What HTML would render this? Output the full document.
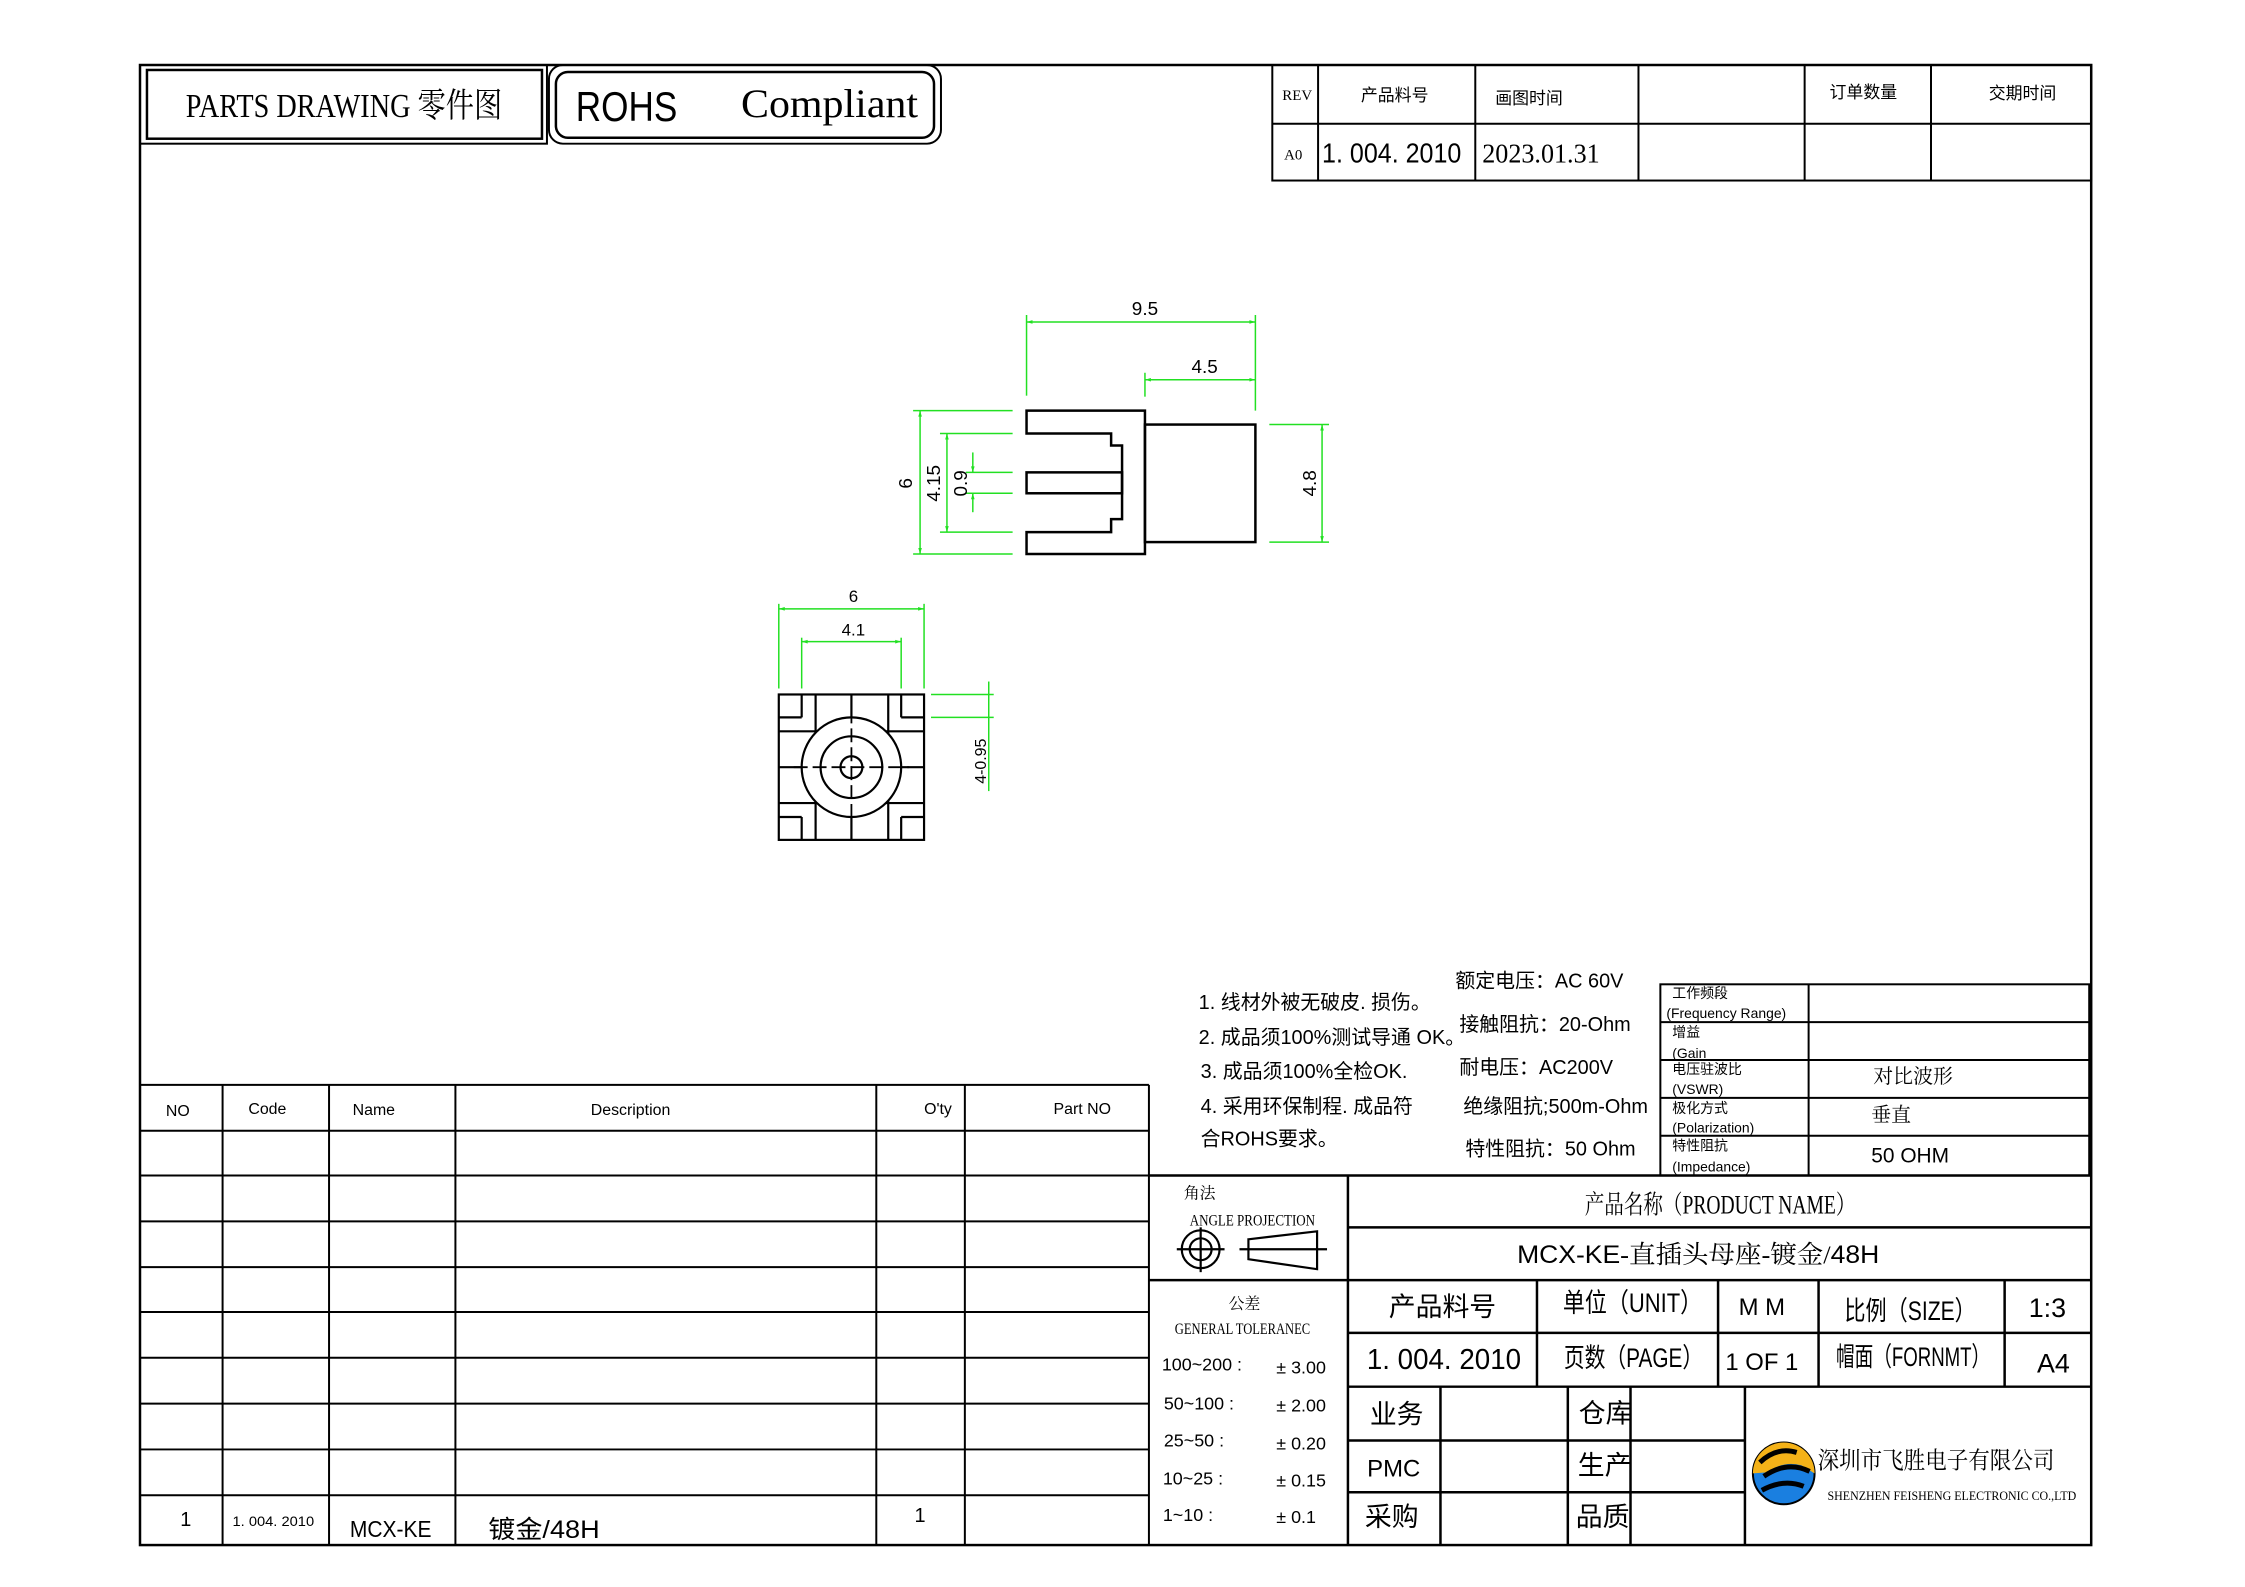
<!DOCTYPE html>
<html><head><meta charset="utf-8"><style>
html,body{margin:0;padding:0;background:#fff;}
svg{display:block;}
text{font-family:"Liberation Sans","Noto Sans CJK SC",sans-serif;fill:#000;}
.s{font-family:"Liberation Serif","Noto Serif CJK SC",serif;}
.g{stroke:#22e022;stroke-width:1.5;fill:none;}
.k{stroke:#000;fill:none;}
</style></head><body>
<svg width="2245" height="1587" viewBox="0 0 2245 1587" xmlns="http://www.w3.org/2000/svg">
<defs>
<marker id="a" viewBox="0 0 10 10" refX="10" refY="5" markerWidth="10" markerHeight="6" orient="auto-start-reverse" markerUnits="userSpaceOnUse"><path d="M0,2 L10,5 L0,8z" fill="#22e022"/></marker>
</defs>
<rect x="0" y="0" width="2245" height="1587" fill="#fff"/>
<g transform="translate(140,65) scale(0.995,0.996) translate(-140,-65)">
<!-- frame -->
<rect x="140" y="65" width="1961" height="1486" class="k" stroke-width="2.5"/>
<!-- header boxes -->
<rect x="140" y="65" width="409" height="79" class="k" stroke-width="2"/>
<rect x="147" y="70" width="397" height="69" class="k" stroke-width="2.5"/>
<text x="345" y="117" font-size="34" text-anchor="middle" class="s" textLength="318" lengthAdjust="spacingAndGlyphs">PARTS DRAWING 零件图</text>
<rect x="551" y="65" width="394" height="79" rx="14" class="k" stroke-width="2"/>
<rect x="558" y="72" width="380" height="66" rx="12" class="k" stroke-width="2.5"/>
<text x="578" y="121" font-size="42" textLength="102" lengthAdjust="spacingAndGlyphs">ROHS</text>
<text x="744" y="117" font-size="40" class="s" textLength="178" lengthAdjust="spacingAndGlyphs">Compliant</text>
<!-- top right table -->
<g class="k" stroke-width="2">
<rect x="1278" y="65" width="823" height="116"/>
<line x1="1278" y1="124" x2="2101" y2="124"/>
<line x1="1324" y1="65" x2="1324" y2="181"/>
<line x1="1482" y1="65" x2="1482" y2="181"/>
<line x1="1646" y1="65" x2="1646" y2="181"/>
<line x1="1813" y1="65" x2="1813" y2="181"/>
<line x1="1940" y1="65" x2="1940" y2="181"/>
</g>
<g font-size="17">
<text x="1303" y="100" text-anchor="middle" class="s" font-size="15">REV</text>
<text x="1401" y="101" text-anchor="middle">产品料号</text>
<text x="1536" y="104" text-anchor="middle">画图时间</text>
<text x="1872" y="98" text-anchor="middle">订单数量</text>
<text x="2032" y="99" text-anchor="middle">交期时间</text>
<text x="1299" y="160" text-anchor="middle" class="s" font-size="15">A0</text>
</g>
<text x="1328" y="163" font-size="28" textLength="140" lengthAdjust="spacingAndGlyphs">1. 004. 2010</text>
<text x="1489" y="163" font-size="28" class="s" textLength="118" lengthAdjust="spacingAndGlyphs">2023.01.31</text>

<!-- side view -->
<g class="k" stroke-width="2.5">
<path d="M1031,412 L1150,412 L1150,556 L1031,556 L1031,534 L1116,534 L1116,521 L1127,521 L1127,447 L1116,447 L1116,435 L1031,435 Z"/>
<rect x="1031" y="474" width="96" height="21"/>
<rect x="1150" y="426" width="111" height="118"/>
</g>
<g class="g">
<line x1="1031" y1="316" x2="1031" y2="397"/>
<line x1="1261" y1="316" x2="1261" y2="412"/>
<line x1="1031" y1="323" x2="1261" y2="323" marker-start="url(#a)" marker-end="url(#a)"/>
<line x1="1150" y1="374" x2="1150" y2="398"/>
<line x1="1150" y1="381" x2="1261" y2="381" marker-start="url(#a)" marker-end="url(#a)"/>
<line x1="917" y1="412" x2="1017" y2="412"/>
<line x1="917" y1="556" x2="1017" y2="556"/>
<line x1="924" y1="412" x2="924" y2="556" marker-start="url(#a)" marker-end="url(#a)"/>
<line x1="944" y1="435" x2="1017" y2="435"/>
<line x1="944" y1="534" x2="1017" y2="534"/>
<line x1="951" y1="435" x2="951" y2="534" marker-start="url(#a)" marker-end="url(#a)"/>
<line x1="970" y1="474" x2="1017" y2="474"/>
<line x1="970" y1="495" x2="1017" y2="495"/>
<line x1="977" y1="454" x2="977" y2="474" marker-end="url(#a)"/>
<line x1="977" y1="514" x2="977" y2="495" marker-end="url(#a)"/>
<line x1="1275" y1="426" x2="1335" y2="426"/>
<line x1="1275" y1="544" x2="1335" y2="544"/>
<line x1="1328" y1="426" x2="1328" y2="544" marker-start="url(#a)" marker-end="url(#a)"/>
</g>
<g font-size="19">
<text x="1150" y="316" text-anchor="middle">9.5</text>
<text x="1210" y="374" text-anchor="middle">4.5</text>
<text transform="translate(916,485) rotate(-90)" text-anchor="middle">6</text>
<text transform="translate(944,485) rotate(-90)" text-anchor="middle">4.15</text>
<text transform="translate(971,485) rotate(-90)" text-anchor="middle">0.9</text>
<text transform="translate(1322,485) rotate(-90)" text-anchor="middle">4.8</text>
</g>

<!-- bottom view -->
<g class="k" stroke-width="2.2">
<rect x="782" y="697" width="146" height="146"/>
<line x1="819" y1="697" x2="819" y2="843"/>
<line x1="892" y1="697" x2="892" y2="843"/>
<line x1="782" y1="734" x2="928" y2="734"/>
<line x1="782" y1="806" x2="928" y2="806"/>
<line x1="782" y1="720" x2="805" y2="720"/><line x1="805" y1="697" x2="805" y2="720"/>
<line x1="905" y1="720" x2="928" y2="720"/><line x1="905" y1="697" x2="905" y2="720"/>
<line x1="782" y1="820" x2="805" y2="820"/><line x1="805" y1="820" x2="805" y2="843"/>
<line x1="905" y1="820" x2="928" y2="820"/><line x1="905" y1="820" x2="905" y2="843"/>
<line x1="855" y1="697" x2="855" y2="843"/>
<line x1="782" y1="770" x2="928" y2="770"/>
<circle cx="855" cy="770" r="50" fill="#fff"/>
<circle cx="855" cy="770" r="31"/>
<circle cx="855" cy="770" r="11"/>
<line x1="855" y1="712" x2="855" y2="828" stroke-dasharray="14,5" stroke-width="1.8"/>
<line x1="797" y1="770" x2="913" y2="770" stroke-dasharray="14,5" stroke-width="1.8"/>
</g>
<g class="g">
<line x1="782" y1="606" x2="782" y2="691"/>
<line x1="928" y1="606" x2="928" y2="691"/>
<line x1="782" y1="611" x2="928" y2="611" marker-start="url(#a)" marker-end="url(#a)"/>
<line x1="805" y1="640" x2="805" y2="691"/>
<line x1="905" y1="640" x2="905" y2="691"/>
<line x1="805" y1="644" x2="905" y2="644" marker-start="url(#a)" marker-end="url(#a)"/>
<line x1="935" y1="697" x2="998" y2="697"/>
<line x1="935" y1="720" x2="998" y2="720"/>
<line x1="993" y1="684" x2="993" y2="794"/>
</g>
<g font-size="17">
<text x="857" y="604" text-anchor="middle">6</text>
<text x="857" y="638" text-anchor="middle">4.1</text>
<text transform="translate(990,764) rotate(-90)" text-anchor="middle" font-size="16">4-0.95</text>
</g>

<!-- notes -->
<g font-size="20" class="s">
<text x="1204" y="1013">1. 线材外被无破皮. 损伤。</text>
<text x="1204" y="1048">2. 成品须100%测试导通 OK。</text>
<text x="1206" y="1082">3. 成品须100%全检OK.</text>
<text x="1206" y="1117">4. 采用环保制程. 成品符</text>
<text x="1206" y="1150">合ROHS要求。</text>
<text x="1462" y="991">额定电压：<tspan font-family="Liberation Sans">AC 60V</tspan></text>
<text x="1466" y="1035">接触阻抗：20-Ohm</text>
<text x="1466" y="1078">耐电压：<tspan font-family="Liberation Sans">AC200V</tspan></text>
<text x="1470" y="1117">绝缘阻抗;500m-Ohm</text>
<text x="1472" y="1160">特性阻抗：<tspan font-family="Liberation Sans">50 Ohm</tspan></text>
</g>
<!-- spec table -->
<g class="k" stroke-width="2">
<rect x="1668" y="988" width="431" height="192"/>
<line x1="1817" y1="988" x2="1817" y2="1180"/>
<line x1="1668" y1="1026" x2="2099" y2="1026"/>
<line x1="1668" y1="1064" x2="2099" y2="1064"/>
<line x1="1668" y1="1102" x2="2099" y2="1102"/>
<line x1="1668" y1="1140" x2="2099" y2="1140"/>
</g>
<g font-size="14" class="s">
<text x="1680" y="1002">工作频段</text><text x="1674" y="1022">(Frequency Range)</text>
<text x="1680" y="1041">增益</text><text x="1680" y="1062">(Gain</text>
<text x="1680" y="1078">电压驻波比</text><text x="1680" y="1098">(VSWR)</text>
<text x="1680" y="1117">极化方式</text><text x="1680" y="1137">(Polarization)</text>
<text x="1680" y="1155">特性阻抗</text><text x="1680" y="1176">(Impedance)</text>
</g>
<text x="1882" y="1087" font-size="20" class="s">对比波形</text>
<text x="1880" y="1126" font-size="20" class="s">垂直</text>
<text x="1880" y="1167" font-size="21">50 OHM</text>

<!-- BOM table -->
<g class="k" stroke-width="2">
<line x1="140" y1="1089" x2="1154" y2="1089"/>
<line x1="140" y1="1135" x2="1154" y2="1135"/>
<line x1="140" y1="1180" x2="1154" y2="1180"/>
<line x1="140" y1="1226" x2="1154" y2="1226"/>
<line x1="140" y1="1272" x2="1154" y2="1272"/>
<line x1="140" y1="1317" x2="1154" y2="1317"/>
<line x1="140" y1="1363" x2="1154" y2="1363"/>
<line x1="140" y1="1409" x2="1154" y2="1409"/>
<line x1="140" y1="1455" x2="1154" y2="1455"/>
<line x1="140" y1="1501" x2="1154" y2="1501"/>
<line x1="223" y1="1089" x2="223" y2="1551"/>
<line x1="330" y1="1089" x2="330" y2="1551"/>
<line x1="457" y1="1089" x2="457" y2="1551"/>
<line x1="880" y1="1089" x2="880" y2="1551"/>
<line x1="969" y1="1089" x2="969" y2="1551"/>
<line x1="1154" y1="1089" x2="1154" y2="1551"/>
</g>
<g font-size="16" class="s">
<text x="178" y="1120" text-anchor="middle">NO</text>
<text x="268" y="1118" text-anchor="middle">Code</text>
<text x="375" y="1119" text-anchor="middle">Name</text>
<text x="633" y="1119" text-anchor="middle">Description</text>
<text x="942" y="1118" text-anchor="middle">O'ty</text>
<text x="1087" y="1118" text-anchor="middle">Part NO</text>
<text x="186" y="1532" text-anchor="middle" font-size="20">1</text>
<text x="233" y="1532" font-size="14" textLength="82" lengthAdjust="spacingAndGlyphs">1. 004. 2010</text>
<text x="924" y="1528" text-anchor="middle" font-size="20">1</text>
</g>
<text x="351" y="1543" font-size="23" textLength="82" lengthAdjust="spacingAndGlyphs">MCX-KE</text>
<text x="490" y="1544" font-size="25" textLength="112" lengthAdjust="spacingAndGlyphs">镀金/48H</text>

<!-- title block -->
<g class="k" stroke-width="2.5">
<line x1="1154" y1="1180" x2="2101" y2="1180"/>
<line x1="1354" y1="1232" x2="2101" y2="1232"/>
<line x1="1154" y1="1285" x2="2101" y2="1285"/>
<line x1="1354" y1="1338" x2="2101" y2="1338"/>
<line x1="1354" y1="1392" x2="2101" y2="1392"/>
<line x1="1354" y1="1446" x2="1753" y2="1446"/>
<line x1="1354" y1="1498" x2="1753" y2="1498"/>
<line x1="1354" y1="1180" x2="1354" y2="1551"/>
<line x1="1544" y1="1285" x2="1544" y2="1392"/>
<line x1="1726" y1="1285" x2="1726" y2="1392"/>
<line x1="1827" y1="1285" x2="1827" y2="1392"/>
<line x1="2014" y1="1285" x2="2014" y2="1392"/>
<line x1="1447" y1="1392" x2="1447" y2="1551"/>
<line x1="1575" y1="1392" x2="1575" y2="1551"/>
<line x1="1638" y1="1392" x2="1638" y2="1551"/>
<line x1="1753" y1="1392" x2="1753" y2="1551"/>
</g>
<text x="1205" y="1203" font-size="16" text-anchor="middle" class="s">角法</text>
<text x="1258" y="1230" font-size="16" text-anchor="middle" class="s" textLength="126" lengthAdjust="spacingAndGlyphs">ANGLE PROJECTION</text>
<g class="k" stroke-width="2.2">
<circle cx="1206" cy="1254" r="19"/><circle cx="1206" cy="1254" r="11"/>
<line x1="1182" y1="1254" x2="1230" y2="1254"/><line x1="1206" y1="1232" x2="1206" y2="1277"/>
<path d="M1254,1244 L1323,1236 L1323,1274 L1254,1264 Z"/>
<line x1="1245" y1="1254" x2="1333" y2="1254"/>
</g>
<text x="1250" y="1314" font-size="16" text-anchor="middle" class="s">公差</text>
<text x="1248" y="1339" font-size="16" text-anchor="middle" class="s" textLength="136" lengthAdjust="spacingAndGlyphs">GENERAL TOLERANEC</text>
<g font-size="18" class="s">
<text x="1167" y="1376">100~200 :</text><text x="1282" y="1379">± 3.00</text>
<text x="1169" y="1415">50~100 :</text><text x="1282" y="1417">± 2.00</text>
<text x="1169" y="1452">25~50 :</text><text x="1282" y="1455">± 0.20</text>
<text x="1168" y="1490">10~25 :</text><text x="1282" y="1492">± 0.15</text>
<text x="1168" y="1527">1~10 :</text><text x="1282" y="1529">± 0.1</text>
</g>
<text x="1728" y="1218" font-size="26" text-anchor="middle" class="s" textLength="272" lengthAdjust="spacingAndGlyphs">产品名称（PRODUCT NAME）</text>
<text x="1706" y="1268" font-size="25" text-anchor="middle" class="s" textLength="364" lengthAdjust="spacingAndGlyphs"><tspan font-family="Liberation Sans">MCX-KE</tspan>-直插头母座-镀金/<tspan font-family="Liberation Sans">48H</tspan></text>
<g font-size="27" class="s">
<text x="1449" y="1321" text-anchor="middle">产品料号</text>
<text x="1640" y="1317" text-anchor="middle" textLength="140" lengthAdjust="spacingAndGlyphs">单位（UNIT）</text>
<text x="1770" y="1320" text-anchor="middle" font-size="24">M M</text>
<text x="1919" y="1325" text-anchor="middle" textLength="132" lengthAdjust="spacingAndGlyphs">比例（SIZE）</text>
<text x="2057" y="1322" text-anchor="middle">1:3</text>
<text x="1641" y="1372" text-anchor="middle" textLength="140" lengthAdjust="spacingAndGlyphs">页数（PAGE）</text>
<text x="1770" y="1375" text-anchor="middle" font-size="24">1 OF 1</text>
<text x="1922" y="1371" text-anchor="middle" textLength="155" lengthAdjust="spacingAndGlyphs">帽面（FORNMT）</text>
<text x="2063" y="1378" text-anchor="middle">A4</text>
<text x="1403" y="1429" text-anchor="middle">业务</text>
<text x="1400" y="1482" text-anchor="middle" font-size="24">PMC</text>
<text x="1398" y="1532" text-anchor="middle">采购</text>
<text x="1613" y="1428" text-anchor="middle">仓库</text>
<text x="1612" y="1480" text-anchor="middle">生产</text>
<text x="1610" y="1532" text-anchor="middle">品质</text>
</g>
<text x="1373" y="1374" font-size="29" textLength="155" lengthAdjust="spacingAndGlyphs">1. 004. 2010</text>
<!-- logo -->
<g>
<ellipse cx="1792" cy="1479" rx="31" ry="31" fill="#1a7fe0" stroke="#000" stroke-width="2"/>
<path d="M1761,1479 A31,31 0 0 1 1823,1479 L1810,1471 Q1792,1466 1775,1478 L1761,1479 Z" fill="#f4b218"/>
<path d="M1768,1468 Q1785,1452 1805,1458" stroke="#000" stroke-width="5" fill="none"/>
<path d="M1772,1482 Q1795,1466 1818,1477" stroke="#000" stroke-width="5" fill="none"/>
<path d="M1770,1496 Q1792,1484 1812,1492" stroke="#000" stroke-width="5" fill="none"/>
</g>
<text x="1826" y="1474" font-size="24" class="s" textLength="238" lengthAdjust="spacingAndGlyphs">深圳市飞胜电子有限公司</text>
<text x="1836" y="1506" font-size="13" class="s" textLength="250" lengthAdjust="spacingAndGlyphs">SHENZHEN FEISHENG ELECTRONIC  CO.,LTD</text>
</g>
</svg>
</body></html>
